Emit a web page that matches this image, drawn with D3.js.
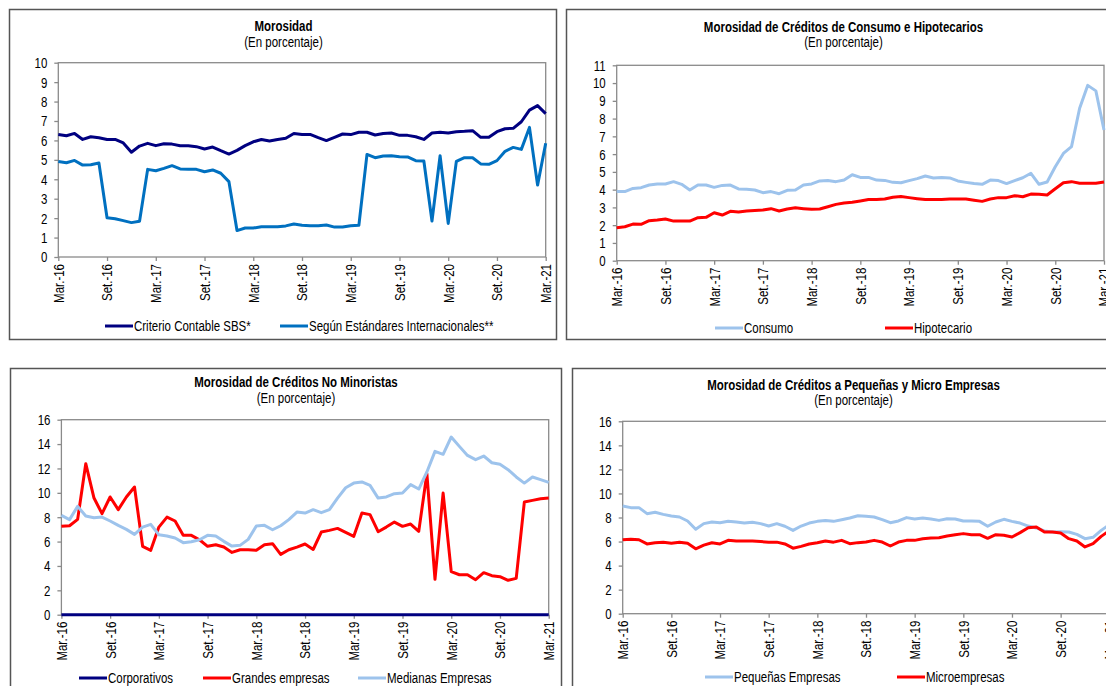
<!DOCTYPE html>
<html>
<head>
<meta charset="utf-8">
<script src="https://cdn.jsdelivr.net/npm/d3@7"></script>
<style>
  body { margin: 0; background: #fff; }
  svg { display: block; font-family: "Liberation Sans Narrow", "Arial Narrow", "Liberation Sans", Arial, sans-serif; }
  .frame { fill: none; stroke: #8a8a8a; stroke-width: 1.3; }
  .panel { fill: none; stroke: #555; stroke-width: 1.5; }
  .series { fill: none; stroke-width: 3; stroke-linejoin: round; }
</style>
</head>
<body>
<script>
// Morosidad - four panels, monthly data Mar.-16 .. Mar.-21 (61 months)

var tickLabels = ["Mar.-16", "Set.-16", "Mar.-17", "Set.-17", "Mar.-18", "Set.-18",
                  "Mar.-19", "Set.-19", "Mar.-20", "Set.-20", "Mar.-21"];

// Panel 1
var sbs = [6.31, 6.24, 6.36, 6.05, 6.19, 6.14, 6.05, 6.05, 5.87, 5.39,
           5.71, 5.85, 5.73, 5.83, 5.81, 5.73, 5.73, 5.68, 5.56, 5.66,
           5.47, 5.30, 5.49, 5.73, 5.93, 6.05, 5.97, 6.05, 6.11, 6.36,
           6.31, 6.31, 6.14, 5.99, 6.16, 6.33, 6.30, 6.42, 6.42, 6.28,
           6.36, 6.38, 6.26, 6.26, 6.19, 6.05, 6.38, 6.42, 6.38, 6.45,
           6.47, 6.50, 6.16, 6.16, 6.45, 6.60, 6.62, 6.96, 7.56, 7.79, 7.38];
var internacional = [4.91, 4.85, 4.97, 4.73, 4.75, 4.84, 2.02, 1.97, 1.87, 1.77,
           1.84, 4.51, 4.44, 4.56, 4.70, 4.53, 4.51, 4.51, 4.39, 4.48,
           4.31, 3.88, 1.36, 1.49, 1.49, 1.56, 1.56, 1.56, 1.60, 1.70,
           1.63, 1.61, 1.61, 1.65, 1.54, 1.54, 1.61, 1.63, 5.28, 5.11,
           5.20, 5.21, 5.16, 5.15, 4.96, 4.94, 1.85, 5.21, 1.73, 4.92,
           5.11, 5.11, 4.79, 4.77, 4.96, 5.44, 5.64, 5.54, 6.67, 3.70, 5.85];

// Panel 2
var consumo = [3.89, 3.89, 4.07, 4.11, 4.26, 4.32, 4.32, 4.45, 4.30, 3.98,
           4.26, 4.26, 4.13, 4.24, 4.26, 4.04, 4.02, 3.98, 3.83, 3.89,
           3.77, 3.96, 3.98, 4.26, 4.32, 4.49, 4.51, 4.45, 4.54, 4.84,
           4.69, 4.69, 4.54, 4.52, 4.41, 4.39, 4.51, 4.62, 4.77, 4.66,
           4.69, 4.66, 4.49, 4.41, 4.34, 4.30, 4.54, 4.51, 4.34, 4.51,
           4.67, 4.92, 4.30, 4.43, 5.29, 6.04, 6.42, 8.58, 9.87, 9.56, 7.36];
var hipotecario = [1.86, 1.91, 2.06, 2.05, 2.25, 2.29, 2.35, 2.23, 2.23, 2.23,
           2.42, 2.44, 2.70, 2.57, 2.78, 2.74, 2.80, 2.83, 2.85, 2.93,
           2.80, 2.91, 2.98, 2.93, 2.89, 2.91, 3.04, 3.17, 3.25, 3.29,
           3.36, 3.44, 3.44, 3.47, 3.57, 3.62, 3.55, 3.49, 3.44, 3.44,
           3.45, 3.47, 3.47, 3.47, 3.40, 3.34, 3.47, 3.55, 3.55, 3.66,
           3.60, 3.75, 3.74, 3.70, 4.05, 4.39, 4.45, 4.36, 4.36, 4.36, 4.43];

// Panel 3
var corporativos = [0, 0, 0, 0, 0, 0, 0, 0, 0, 0,
           0, 0, 0, 0, 0, 0, 0, 0, 0, 0,
           0, 0, 0, 0, 0, 0, 0, 0, 0, 0,
           0, 0, 0, 0, 0, 0, 0, 0, 0, 0,
           0, 0, 0, 0, 0, 0, 0, 0, 0, 0,
           0, 0, 0, 0, 0, 0, 0, 0, 0, 0, 0];
var grandes = [7.25, 7.30, 7.82, 12.39, 9.60, 8.29, 9.66, 8.62, 9.66, 10.48,
           5.61, 5.28, 7.19, 8.01, 7.69, 6.51, 6.51, 6.15, 5.61, 5.74,
           5.55, 5.11, 5.33, 5.33, 5.28, 5.74, 5.83, 4.95, 5.33, 5.55,
           5.80, 5.35, 6.78, 6.92, 7.08, 6.76, 6.43, 8.34, 8.21, 6.81,
           7.19, 7.60, 7.25, 7.44, 6.84, 11.57, 2.90, 9.98, 3.53, 3.28,
           3.28, 2.87, 3.45, 3.20, 3.12, 2.82, 2.98, 9.24, 9.38, 9.52, 9.57];
var medianas = [8.15, 7.80, 8.89, 8.10, 7.96, 8.01, 7.69, 7.33, 7.00, 6.59,
           7.19, 7.41, 6.56, 6.46, 6.29, 5.91, 5.99, 6.15, 6.51, 6.46,
           6.02, 5.63, 5.69, 6.18, 7.28, 7.33, 6.97, 7.30, 7.80, 8.42,
           8.34, 8.62, 8.37, 8.62, 9.57, 10.42, 10.80, 10.89, 10.61, 9.57,
           9.66, 9.93, 9.98, 10.67, 10.31, 11.71, 13.40, 13.16, 14.58, 13.81,
           13.07, 12.72, 13.02, 12.47, 12.34, 11.90, 11.30, 10.80, 11.30, 11.08, 10.86];

// Panel 4
var pequenas = [8.96, 8.82, 8.82, 8.32, 8.43, 8.26, 8.13, 8.04, 7.71, 7.02,
           7.49, 7.63, 7.57, 7.68, 7.63, 7.54, 7.60, 7.49, 7.29, 7.49,
           7.27, 6.93, 7.29, 7.54, 7.68, 7.76, 7.68, 7.82, 7.96, 8.15,
           8.10, 8.04, 7.82, 7.57, 7.71, 7.99, 7.88, 7.96, 7.88, 7.76,
           7.90, 7.88, 7.71, 7.71, 7.68, 7.27, 7.63, 7.85, 7.68, 7.54,
           7.29, 7.13, 6.88, 6.79, 6.82, 6.79, 6.60, 6.24, 6.35, 6.93, 7.40];
var micro = [6.15, 6.20, 6.15, 5.80, 5.90, 5.95, 5.85, 5.95, 5.85, 5.40,
           5.70, 5.90, 5.80, 6.10, 6.05, 6.05, 6.05, 6.00, 5.95, 5.95,
           5.80, 5.45, 5.60, 5.80, 5.90, 6.05, 5.95, 6.10, 5.82, 5.91,
           5.96, 6.10, 5.96, 5.63, 5.96, 6.10, 6.10, 6.24, 6.30, 6.32,
           6.46, 6.57, 6.66, 6.57, 6.57, 6.27, 6.57, 6.52, 6.38, 6.74,
           7.15, 7.21, 6.79, 6.79, 6.71, 6.24, 6.05, 5.55, 5.82, 6.43, 6.90];

var navy = "#000080", blue = "#0070c0", light = "#9dc3ec", red = "#ff0000";

// no narrow font installed, so squeeze text horizontally
var squeeze = " scale(0.82,1)";

var svg = d3.select("body").append("svg")
    .attr("width", 1106)
    .attr("height", 686);

// Panel boxes (right / bottom ones run off the picture)
var boxes = [[9.5, 9.5, 547, 330], [566.5, 9.5, 620, 330],
             [10.5, 368.5, 551, 400], [572.5, 368.5, 620, 400]];
svg.selectAll("rect.panel").data(boxes).enter().append("rect")
    .attr("class", "panel")
    .attr("x", d => d[0]).attr("y", d => d[1])
    .attr("width", d => d[2]).attr("height", d => d[3]);

var panels = [
  { title: "Morosidad", tx: 283.5, ty: 31, sy: 47,
    x0: 58.3, x1: 545.7, top: 62.7, bottom: 257, ymax: 10, step: 1,
    series: [{ name: "Criterio Contable SBS*", values: sbs, color: navy },
             { name: "Según Estándares Internacionales**", values: internacional, color: blue }],
    legend: [[105, 326], [280, 326]] },
  { title: "Morosidad de Créditos de Consumo e Hipotecarios", tx: 843.5, ty: 32, sy: 47,
    x0: 616.7, x1: 1104, top: 65.3, bottom: 260.7, ymax: 11, step: 1,
    series: [{ name: "Consumo", values: consumo, color: light },
             { name: "Hipotecario", values: hipotecario, color: red }],
    legend: [[715, 328], [885, 328]] },
  { title: "Morosidad de Créditos No Minoristas", tx: 296, ty: 387, sy: 403,
    x0: 61.4, x1: 548.7, top: 419.7, bottom: 614.7, ymax: 16, step: 2,
    series: [{ name: "Corporativos", values: corporativos, color: navy },
             { name: "Grandes empresas", values: grandes, color: red },
             { name: "Medianas Empresas", values: medianas, color: light }],
    legend: [[79, 678], [203, 678], [358, 678]] },
  { title: "Morosidad de Créditos a Pequeñas y Micro Empresas", tx: 853.5, ty: 390, sy: 405,
    x0: 622.7, x1: 1109.3, top: 421.3, bottom: 613.7, ymax: 16, step: 2,
    series: [{ name: "Pequeñas Empresas", values: pequenas, color: light },
             { name: "Microempresas", values: micro, color: red }],
    legend: [[705, 677], [897, 677]] }
];

panels.forEach(drawPanel);

function drawPanel(p) {
  var g = svg.append("g");

  var x = d3.scaleLinear().domain([0, 60]).range([p.x0, p.x1]);
  var y = d3.scaleLinear().domain([0, p.ymax]).range([p.bottom, p.top]);

  // Title and subtitle
  g.append("text")
      .attr("transform", "translate(" + p.tx + "," + p.ty + ")" + squeeze)
      .attr("text-anchor", "middle")
      .style("font-size", "14px").style("font-weight", "bold")
      .text(p.title);
  g.append("text")
      .attr("transform", "translate(" + p.tx + "," + p.sy + ")" + squeeze)
      .attr("text-anchor", "middle")
      .style("font-size", "14px")
      .text("(En porcentaje)");

  // Plot frame
  g.append("rect")
      .attr("class", "frame")
      .attr("x", p.x0).attr("y", p.top)
      .attr("width", p.x1 - p.x0).attr("height", p.bottom - p.top);

  // Y axis
  var yAxis = d3.axisLeft(y)
      .tickValues(d3.range(0, p.ymax + 0.001, p.step))
      .tickSize(4);
  var ya = g.append("g")
      .attr("transform", "translate(" + p.x0 + ",0)")
      .call(yAxis);
  ya.select(".domain").remove();
  ya.selectAll("line").attr("stroke", "#8a8a8a").attr("stroke-width", 1.3);
  ya.selectAll("text")
      .style("font-size", "14px").style("font-family", null).attr("fill", "#000")
      .attr("x", 0).attr("dy", "0.35em")
      .attr("transform", "translate(-11,0)" + squeeze);

  // X axis with rotated labels
  var xAxis = d3.axisBottom(x)
      .tickValues(d3.range(0, 61, 6))
      .tickFormat((d, i) => tickLabels[i])
      .tickSize(4);
  var xa = g.append("g")
      .attr("transform", "translate(0," + p.bottom + ")")
      .call(xAxis);
  xa.select(".domain").remove();
  xa.selectAll("line").attr("stroke", "#8a8a8a").attr("stroke-width", 1.3);
  xa.selectAll("text")
      .style("font-size", "14px").style("font-family", null).attr("fill", "#000")
      .attr("text-anchor", "end")
      .attr("x", 0).attr("y", 0).attr("dy", "0.35em")
      .attr("transform", "translate(0,7) rotate(-90)" + squeeze);

  // Lines
  var line = d3.line()
      .x((d, i) => x(i))
      .y(d => y(d));
  g.selectAll("path.series")
      .data(p.series)
      .enter().append("path")
      .attr("class", "series")
      .attr("stroke", d => d.color)
      .attr("d", d => line(d.values));

  // Legend
  p.series.forEach(function (s, i) {
    var lx = p.legend[i][0], ly = p.legend[i][1];
    g.append("line")
        .attr("x1", lx).attr("x2", lx + 28)
        .attr("y1", ly).attr("y2", ly)
        .attr("stroke", s.color).attr("stroke-width", 3);
    g.append("text")
        .attr("transform", "translate(" + (lx + 29) + "," + ly + ")" + squeeze)
        .attr("dy", "0.35em")
        .style("font-size", "14px")
        .text(s.name);
  });
}
</script>
</body>
</html>
